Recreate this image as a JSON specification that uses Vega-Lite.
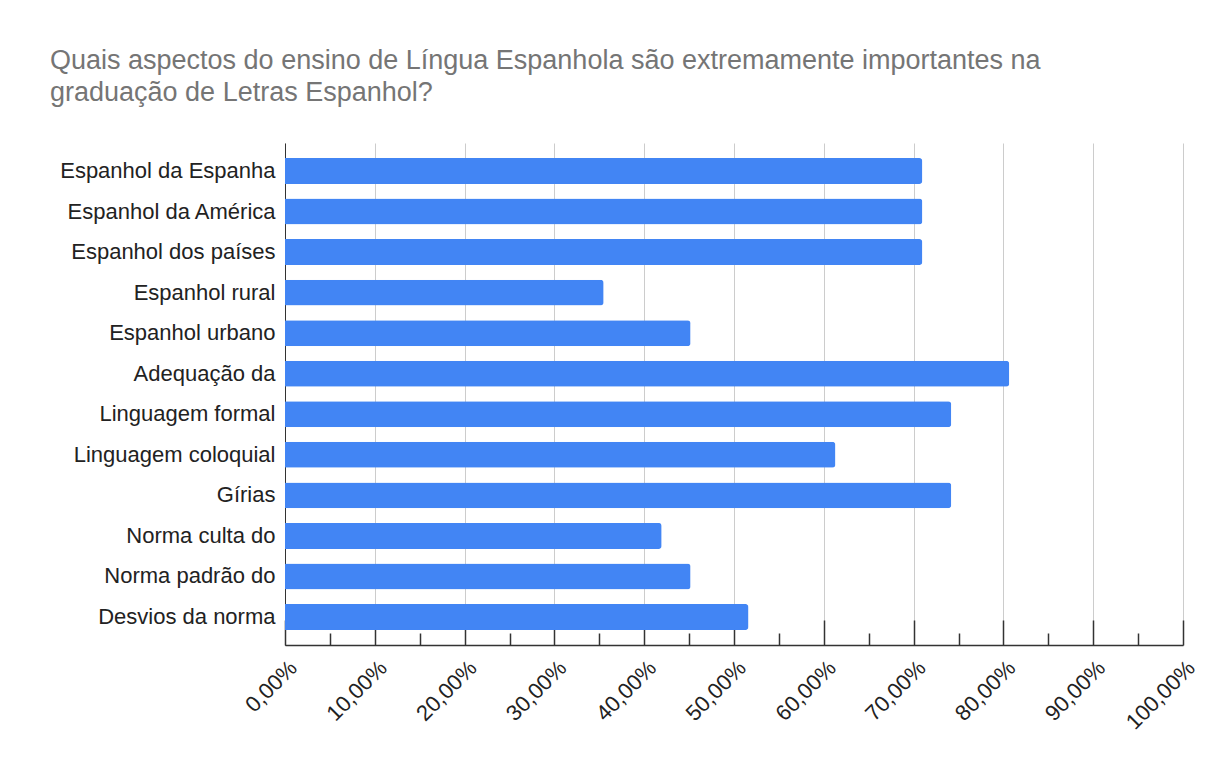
{
  "$schema": "https://vega.github.io/schema/vega-lite/v6.json",
  "autosize": "none",
  "width": 898,
  "height": 502,
  "padding": {"left": 285, "top": 143, "right": 27, "bottom": 115},
  "background": "white",
  "title": {
    "text": ["Quais aspectos do ensino de Língua Espanhola são extremamente importantes na", "graduação de Letras Espanhol?"],
    "anchor": "start",
    "frame": "group",
    "dx": -235,
    "font": "Liberation Sans",
    "fontSize": 27,
    "fontWeight": "normal",
    "color": "#757575",
    "lineHeight": 32,
    "offset": 36
  },
  "data": {
    "values": [
      {"aspecto": "Espanhol da Espanha", "pct": 0.7097},
      {"aspecto": "Espanhol da América", "pct": 0.7097},
      {"aspecto": "Espanhol dos países", "pct": 0.7097},
      {"aspecto": "Espanhol rural", "pct": 0.3548},
      {"aspecto": "Espanhol urbano", "pct": 0.4516},
      {"aspecto": "Adequação da", "pct": 0.8065},
      {"aspecto": "Linguagem formal", "pct": 0.7419},
      {"aspecto": "Linguagem coloquial", "pct": 0.6129},
      {"aspecto": "Gírias", "pct": 0.7419},
      {"aspecto": "Norma culta do", "pct": 0.4194},
      {"aspecto": "Norma padrão do", "pct": 0.4516},
      {"aspecto": "Desvios da norma", "pct": 0.5161}
    ]
  },
  "mark": {"type": "bar", "color": "#4285F4", "cornerRadiusEnd": 3},
  "encoding": {
    "y": {
      "field": "aspecto",
      "type": "nominal",
      "sort": null,
      "scale": {"paddingInner": 0.36, "paddingOuter": 0.37},
      "axis": {
        "title": null,
        "ticks": false,
        "domainColor": "#333333",
        "labelFont": "Liberation Sans",
        "labelFontSize": 22,
        "labelColor": "#222222",
        "labelPadding": 10,
        "labelLimit": 300
      }
    },
    "x": {
      "field": "pct",
      "type": "quantitative",
      "scale": {"domain": [0, 1], "nice": false},
      "axis": {
        "title": null,
        "values": [0, 0.05, 0.1, 0.15, 0.2, 0.25, 0.3, 0.35, 0.4, 0.45, 0.5, 0.55, 0.6, 0.65, 0.7, 0.75, 0.8, 0.85, 0.9, 0.95, 1],
        "labelExpr": "round(datum.value*100) % 10 == 0 ? replace(format(datum.value, '.2%'), '.', ',') : ''",
        "labelAngle": -45,
        "labelAlign": "right",
        "labelBaseline": "middle",
        "labelFont": "Liberation Sans",
        "labelFontSize": 22,
        "labelColor": "#222222",
        "labelPadding": 44,
        "labelOffset": 8,
        "labelFlush": false,
        "labelOverlap": false,
        "domainColor": "#333333",
        "domainWidth": 1.5,
        "tickColor": "#333333",
        "tickWidth": 1.5,
        "tickSize": {"condition": {"test": "round(datum.value*100) % 10 == 0", "value": -25}, "value": -12},
        "grid": true,
        "gridColor": "#cccccc",
        "gridOpacity": {"condition": {"test": "round(datum.value*100) % 10 == 0", "value": 1}, "value": 0}
      }
    }
  },
  "config": {"view": {"stroke": null}}
}
